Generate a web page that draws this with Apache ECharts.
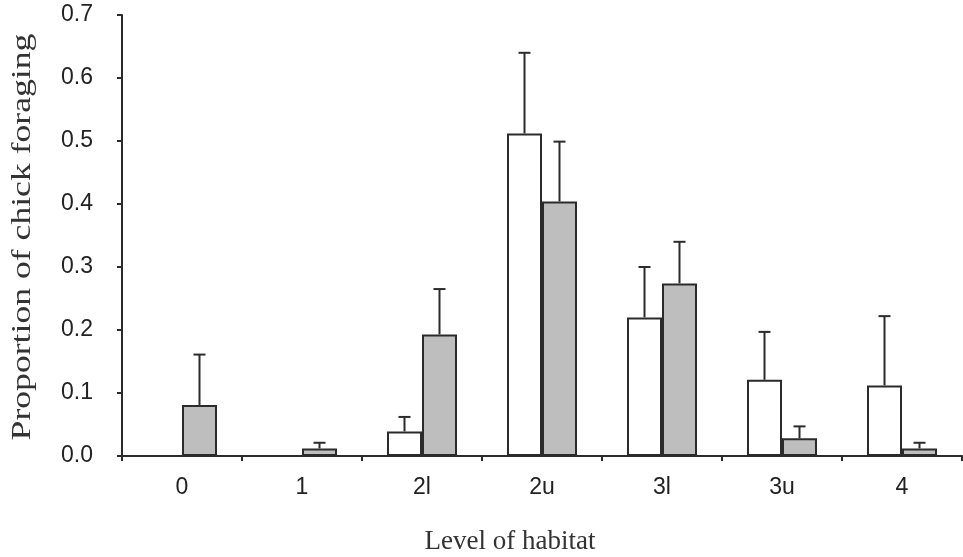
<!DOCTYPE html>
<html>
<head>
<meta charset="utf-8">
<script src="https://cdn.jsdelivr.net/npm/echarts@6/dist/echarts.min.js"></script>
<style>
html,body{margin:0;padding:0;background:#fff;}
#c{width:963px;height:557px;}
</style>
</head>
<body>
<div id="c"></div>
<script>
var categories = ['0', '1', '2l', '2u', '3l', '3u', '4'];
var whiteValues = [0, 0, 0.039, 0.512, 0.220, 0.121, 0.112];
var whiteErrTop = [null, null, 0.062, 0.640, 0.300, 0.197, 0.222];
var grayValues = [0.081, 0.012, 0.193, 0.404, 0.274, 0.028, 0.012];
var grayErrTop = [0.161, 0.021, 0.265, 0.499, 0.340, 0.047, 0.021];

var ink = '#2b2b2b';
var barW = 35;

function errData(vals, tops) {
  var out = [];
  for (var i = 0; i < vals.length; i++) {
    if (tops[i] != null) out.push([i, vals[i], tops[i]]);
  }
  return out;
}

function errRender(offset) {
  return function (params, api) {
    var base = api.coord([api.value(0), api.value(1)]);
    var top = api.coord([api.value(0), api.value(2)]);
    var x = base[0] + offset;
    return {
      type: 'group',
      children: [
        { type: 'line', shape: { x1: x, y1: base[1], x2: x, y2: top[1] }, style: { stroke: ink, lineWidth: 2 } },
        { type: 'line', shape: { x1: x - 6, y1: top[1], x2: x + 6, y2: top[1] }, style: { stroke: ink, lineWidth: 2 } }
      ]
    };
  };
}

var chart = echarts.init(document.getElementById('c'));
chart.setOption({
  backgroundColor: '#ffffff',
  animation: false,
  grid: { left: 122, right: 1, top: 15, bottom: 101, containLabel: false },
  xAxis: {
    type: 'category',
    data: categories,
    boundaryGap: true,
    axisLine: { show: true, lineStyle: { color: ink, width: 2 } },
    axisTick: { show: true, alignWithLabel: false, length: 5, lineStyle: { color: ink, width: 2 } },
    axisLabel: { color: '#222', fontFamily: 'Liberation Sans', fontSize: 23, margin: 20 },
    splitLine: { show: false }
  },
  yAxis: {
    type: 'value',
    min: 0, max: 0.7, interval: 0.1,
    axisLine: { show: true, lineStyle: { color: ink, width: 2 } },
    axisTick: { show: true, length: 5, lineStyle: { color: ink, width: 2 } },
    axisLabel: { color: '#222', fontFamily: 'Liberation Sans', fontSize: 23, margin: 29,
      formatter: function (v) { return v.toFixed(1); } },
    splitLine: { show: false }
  },
  graphic: [
    { type: 'text', x: 510, y: 542, style: { text: 'Level of habitat', font: '27px "Liberation Serif"', fill: '#333', align: 'center', verticalAlign: 'middle', textAlign: 'center', textVerticalAlign: 'middle' } },
    { type: 'text', rotation: Math.PI / 2, x: 23, y: 237, scaleX: 1.32, scaleY: 1, style: { text: 'Proportion of chick foraging', font: '27px "Liberation Serif"', fill: '#333', align: 'center', verticalAlign: 'middle', textAlign: 'center', textVerticalAlign: 'middle' } }
  ],
  series: [
    { type: 'bar', data: whiteValues, barWidth: barW, barGap: '0%',
      itemStyle: { color: '#ffffff', borderColor: ink, borderWidth: 2 } },
    { type: 'bar', data: grayValues, barWidth: barW, barGap: '0%',
      itemStyle: { color: '#bebebe', borderColor: ink, borderWidth: 2 } },
    { type: 'custom', renderItem: errRender(-barW / 2), data: errData(whiteValues, whiteErrTop), z: 5 },
    { type: 'custom', renderItem: errRender(barW / 2), data: errData(grayValues, grayErrTop), z: 5 }
  ]
});
</script>
</body>
</html>
